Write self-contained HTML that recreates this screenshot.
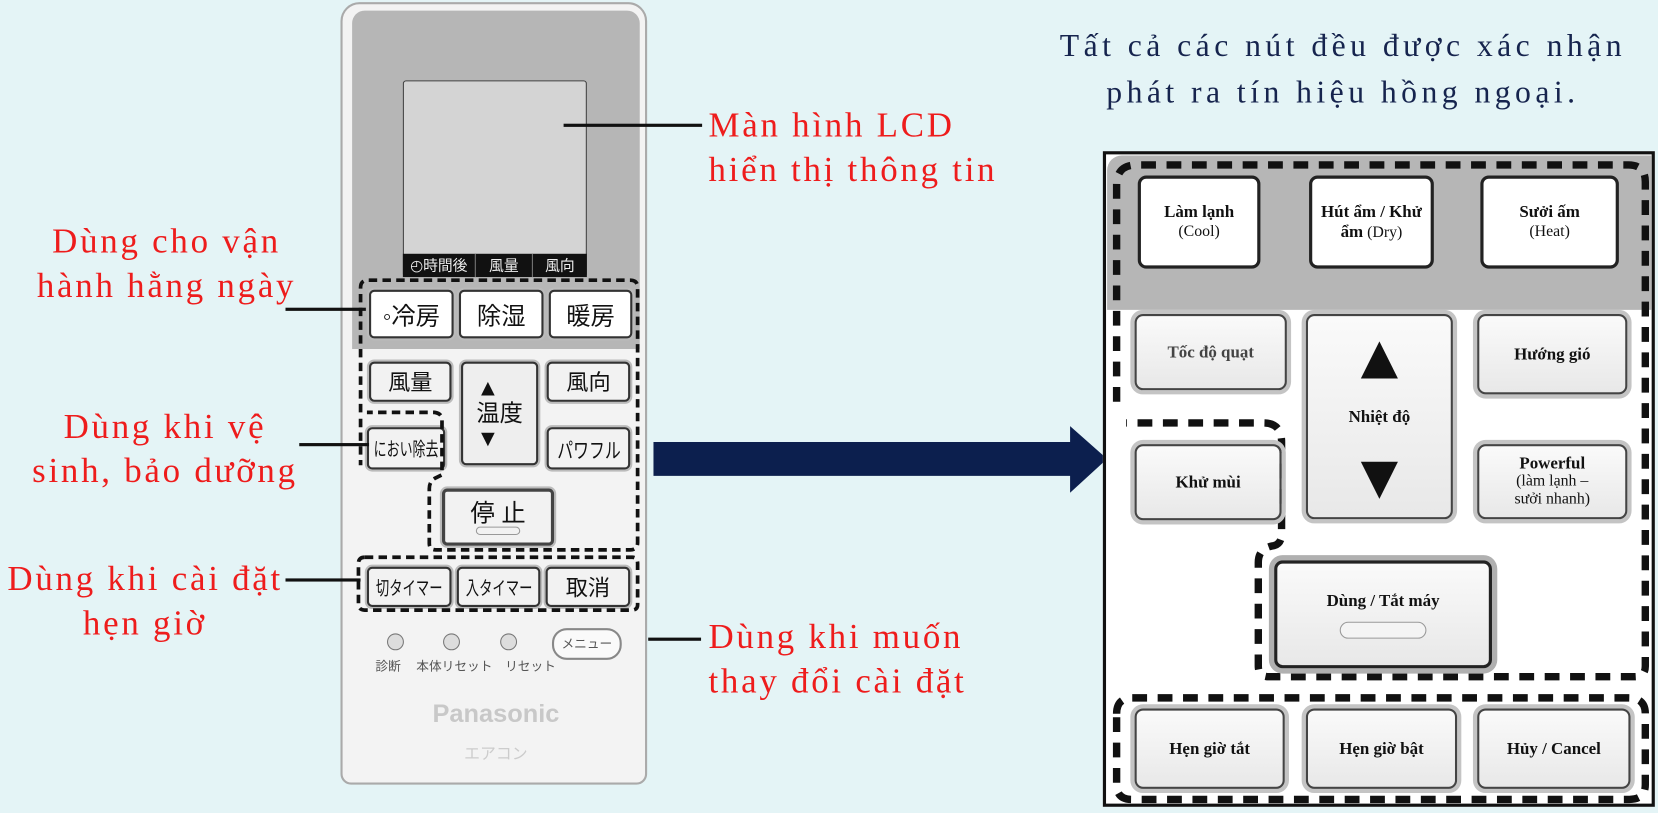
<!DOCTYPE html>
<html><head><meta charset="utf-8"><style>
body{margin:0;width:1658px;height:813px;background:#e4f4f6;position:relative;overflow:hidden;font-family:"Liberation Serif","Noto Serif CJK SC",serif}
#w{position:absolute;left:0;top:0;width:1568px;height:769px;transform:scale(1.0574);transform-origin:0 0}
.a{position:absolute}
.lbl{position:absolute;color:#ee1c1c;font-size:33px;letter-spacing:2.6px;line-height:42px;white-space:nowrap}
.ln{position:absolute;height:3px;background:#111}
.jb{position:absolute;background:#fff;border:2px solid #333;border-radius:5px;box-shadow:0 0 0 2px #bbb;font-family:"Liberation Sans","Noto Sans CJK JP",sans-serif;font-size:21px;display:flex;align-items:center;justify-content:center;color:#111;white-space:nowrap;overflow:hidden}
.jb i{font-style:normal;display:inline-block;transform:scaleX(.75)}
.pb{position:absolute;background:linear-gradient(#fafafa,#e8e8e8);border:2px solid #444;border-radius:8px;box-shadow:0 0 0 4px #c4c4c4;display:flex;flex-direction:column;align-items:center;justify-content:center;text-align:center;font-size:15px;color:#111;line-height:19px}
.pb b{font-size:16px}
</style></head><body><div id="w">
<!-- remote -->
<div class="a" style="left:322px;top:2px;width:290px;height:740px;background:#f3f3f3;border:2px solid #aaa;border-radius:18px 18px 10px 10px;box-sizing:border-box"></div>
<div class="a" style="left:333px;top:10px;width:272px;height:320px;background:#b6b6b6;border-radius:12px 12px 0 0"></div>
<div class="a" style="left:381px;top:76px;width:174px;height:186px;background:#d4d4d4;border:1px solid #444;border-radius:3px;box-sizing:border-box"></div>
<div class="a" style="left:381px;top:240px;width:174px;height:22px;background:#111;color:#eee;font-family:'Noto Sans CJK JP',sans-serif;font-size:14px;line-height:22px;display:flex"><span style="width:68px;text-align:center;border-right:1px solid #777">◴時間後</span><span style="width:53px;text-align:center;border-right:1px solid #777">風量</span><span style="flex:1;text-align:center">風向</span></div>
<div class="jb" style="left:349px;top:274px;width:76px;height:42px;font-size:23px">◦冷房</div>
<div class="jb" style="left:434px;top:274px;width:76px;height:42px;font-size:23px">除湿</div>
<div class="jb" style="left:519px;top:274px;width:75px;height:42px;font-size:23px">暖房</div>
<div class="jb" style="left:349px;top:342px;width:74px;height:34px;background:#f2f2f2">風量</div>
<div class="jb" style="left:436px;top:342px;width:69px;height:94px;background:#eee;flex-direction:column;line-height:24px;font-size:22px">▲<br>温度<br>▼</div>
<div class="jb" style="left:517px;top:342px;width:75px;height:34px;background:#f2f2f2">風向</div>
<div class="jb" style="left:347px;top:404px;width:70px;height:36px;background:#f2f2f2;font-size:18px"><i style="transform:scaleX(.68)">におい除去</i></div>
<div class="jb" style="left:517px;top:404px;width:75px;height:36px;background:#f2f2f2;font-size:20px"><i>パワフル</i></div>
<div class="jb" style="left:418px;top:462px;width:100px;height:48px;background:#f2f2f2;border:3px solid #444;font-size:23px;flex-direction:column;line-height:26px">停 止<span style="display:block;width:40px;height:6px;border:1px solid #999;border-radius:4px"></span></div>
<div class="jb" style="left:347px;top:536px;width:76px;height:34px;background:#f2f2f2;font-size:18px"><i style="transform:scaleX(.7)">切タイマー</i></div>
<div class="jb" style="left:432px;top:536px;width:75px;height:34px;background:#f2f2f2;font-size:18px"><i style="transform:scaleX(.7)">入タイマー</i></div>
<div class="jb" style="left:516px;top:536px;width:76px;height:34px;background:#f2f2f2">取消</div>
<div class="a" style="left:366px;top:599px;width:14px;height:14px;border:1px solid #777;border-radius:50%;background:#ddd"></div>
<div class="a" style="left:419px;top:599px;width:14px;height:14px;border:1px solid #777;border-radius:50%;background:#ddd"></div>
<div class="a" style="left:473px;top:599px;width:14px;height:14px;border:1px solid #777;border-radius:50%;background:#ddd"></div>
<div class="a" style="left:522px;top:594px;width:62px;height:26px;border:2px solid #888;border-radius:14px;background:#fafafa;font-family:'Noto Sans CJK JP',sans-serif;font-size:12px;text-align:center;line-height:26px;color:#555">メニュー</div>
<div class="a" style="left:355px;top:621px;font-family:'Noto Sans CJK JP',sans-serif;font-size:12px;color:#555;white-space:nowrap">診断　 本体リセット　リセット</div>
<div class="a" style="left:320px;top:662px;width:298px;text-align:center;font-family:'Liberation Sans',sans-serif;font-weight:bold;font-size:24px;color:#c8c8c8">Panasonic</div>
<div class="a" style="left:320px;top:702px;width:298px;text-align:center;font-family:'Noto Sans CJK JP',sans-serif;font-size:15px;color:#ccc">エアコン</div>
<svg class="a" style="left:0;top:0" width="1568" height="769">
<g fill="none" stroke="#111" stroke-width="3.5" stroke-dasharray="8 5">
<path d="M341 390 V272 Q341 265 348 265 H596 Q603 265 603 272 V513 Q603 520 596 520 H412 Q406 520 406 514 V462 Q406 455 412 452 L418 449 V397 Q418 391 411 390 H347"/>
<path d="M341 396 V440"/>
<path d="M345 527 H598 Q603 527 603 533 V572 Q603 577 597 577 H345 Q339 577 339 571 V533 Q339 527 345 527Z"/>
</g>
</svg>
<!-- labels -->
<div class="ln" style="left:533px;top:117px;width:131px"></div>
<div class="lbl" style="left:670px;top:98px">Màn hình LCD<br>hiển thị thông tin</div>
<div class="ln" style="left:270px;top:291px;width:76px"></div>
<div class="lbl" style="left:0;top:208px;width:315px;text-align:center">Dùng cho vận<br>hành hằng ngày</div>
<div class="ln" style="left:283px;top:419px;width:66px"></div>
<div class="lbl" style="left:0;top:383px;width:312px;text-align:center">Dùng khi vệ<br>sinh, bảo dưỡng</div>
<div class="ln" style="left:270px;top:547px;width:71px"></div>
<div class="lbl" style="left:7px;top:527px">Dùng khi cài đặt</div>
<div class="lbl" style="left:0;top:569px;width:274px;text-align:center">hẹn giờ</div>
<div class="ln" style="left:613px;top:603px;width:50px"></div>
<div class="lbl" style="left:670px;top:582px">Dùng khi muốn<br>thay đổi cài đặt</div>
<div class="a" style="left:940px;top:22px;width:660px;text-align:center;color:#16244e;font-size:30px;letter-spacing:4.2px;line-height:44px;white-space:nowrap">Tất cả các nút đều được xác nhận<br>phát ra tín hiệu hồng ngoại.</div>
<!-- arrow -->
<svg class="a" style="left:0;top:0" width="1568" height="769"><path d="M618 418 H1012 V403 L1047 434 L1012 466 V450 H618Z" fill="#0c1f4e"/></svg>
<!-- panel -->
<div class="a" style="left:1043px;top:143px;width:522px;height:620px;border:3px solid #111;box-sizing:border-box;background:#fff"></div>
<div class="a" style="left:1047px;top:147px;width:515px;height:146px;background:#b6b6b6;border-radius:14px 0 0 0"></div>
<svg class="a" style="left:0;top:0" width="1568" height="769">
<g fill="none" stroke="#111" stroke-width="7" stroke-dasharray="14 10">
<path d="M1056 380 V175 Q1056 156 1075 156 H1540 Q1556 156 1556 172 V630 Q1556 640 1546 640 H1200 Q1190 640 1190 630 V532 Q1190 518 1205 516 Q1212 514 1212 505 V418 Q1212 400 1195 400 H1065"/>
<path d="M1056 675 Q1056 660 1071 660 H1540 Q1556 660 1556 675 V742 Q1556 756 1541 756 H1070 Q1056 756 1056 742 Z"/>
</g></svg>
<div class="pb" style="left:1076px;top:166px;width:110px;height:82px;background:#fff;border:3px solid #222;box-shadow:none"><b>Làm lạnh</b>(Cool)</div>
<div class="pb" style="left:1238px;top:166px;width:112px;height:82px;background:#fff;border:3px solid #222;box-shadow:none"><b>Hút ẩm / Khử</b><span><b>ẩm</b> (Dry)</span></div>
<div class="pb" style="left:1400px;top:166px;width:125px;height:82px;background:#fff;border:3px solid #222;box-shadow:none"><b>Sưởi ấm</b>(Heat)</div>
<div class="pb" style="left:1073px;top:297px;width:140px;height:68px"><b style="color:#444">Tốc độ quạt</b></div>
<div class="pb" style="left:1235px;top:297px;width:135px;height:190px;justify-content:space-around"><span style="font-size:60px;line-height:60px">▲</span><b>Nhiệt độ</b><span style="font-size:60px;line-height:60px">▼</span></div>
<div class="pb" style="left:1397px;top:297px;width:138px;height:72px"><b>Hướng gió</b></div>
<div class="pb" style="left:1073px;top:420px;width:135px;height:68px"><b>Khử mùi</b></div>
<div class="pb" style="left:1397px;top:420px;width:138px;height:67px;line-height:17px"><b>Powerful</b>(làm lạnh –<br>sưởi nhanh)</div>
<div class="pb" style="left:1205px;top:530px;width:200px;height:96px;border:3px solid #222;box-shadow:0 0 0 5px #b0b0b0"><b>Dùng / Tắt máy</b><span style="display:block;width:80px;height:14px;border:1px solid #999;border-radius:8px;margin-top:10px;background:#f4f4f4"></span></div>
<div class="pb" style="left:1073px;top:670px;width:138px;height:72px"><b>Hẹn giờ tắt</b></div>
<div class="pb" style="left:1235px;top:670px;width:139px;height:72px"><b>Hẹn giờ bật</b></div>
<div class="pb" style="left:1397px;top:670px;width:141px;height:72px"><b>Hủy / Cancel</b></div>
</div></body></html>
